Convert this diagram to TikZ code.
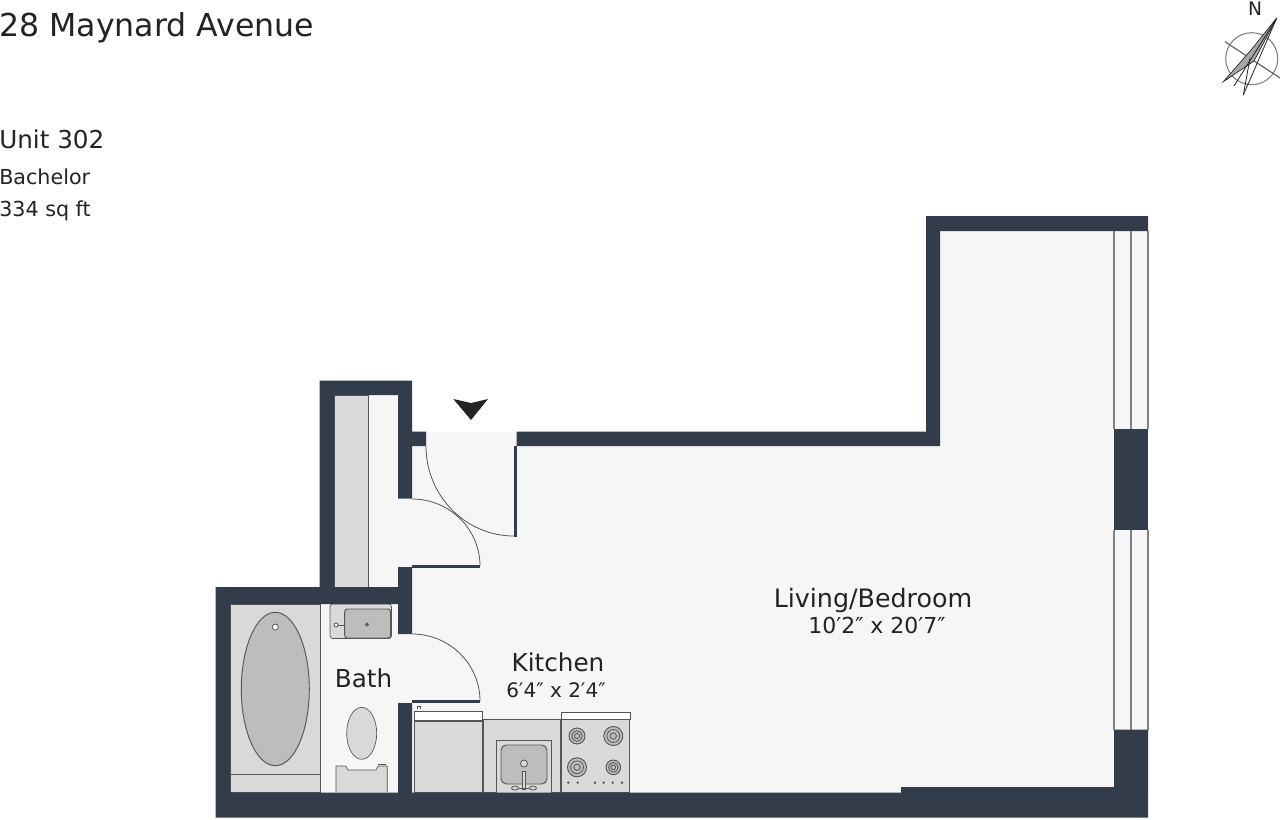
\documentclass[tikz,border=0pt]{standalone}
\usepackage{amsmath}
\usepackage{xcolor}
\usepackage{fontspec}
\setmainfont{DejaVu Sans}
\definecolor{wallcol}{RGB}{51,60,75}
\definecolor{floorcol}{RGB}{246,246,246}
\definecolor{fixcol}{RGB}{217,217,217}
\definecolor{basincol}{RGB}{189,189,189}
\definecolor{linecol}{RGB}{85,85,85}
\definecolor{inkcol}{RGB}{35,35,35}
\tikzset{
  wall/.style={fill=wallcol,draw=none},
  fixture/.style={fill=fixcol,draw=linecol,line width=0.5pt},
  basin/.style={fill=basincol,draw=linecol,line width=0.7pt},
  thinline/.style={draw=linecol,line width=0.6pt},
  winline/.style={draw=gray,line width=1.1pt},
  label/.style={text=inkcol,inner sep=0pt,font=\fontsize{18.5pt}{20pt}\selectfont},
  sublabel/.style={text=inkcol,inner sep=0pt,font=\fontsize{15.5pt}{17pt}\selectfont}
}
\begin{document}
\begin{tikzpicture}[x=0.75pt,y=0.75pt,yscale=-1,xscale=1]
\useasboundingbox (0,0) rectangle (1280,819);

%Shape: floor
\fill [floorcol] (334,395) -- (412,395) -- (412,432) -- (517,432) -- (517,446) -- (940,446) -- (940,231) -- (1148,231) -- (1148,793) -- (230,793) -- (230,604) -- (334,604) -- cycle ;

%Shape: closet shelf
\draw [fixture] (334,395) -- (368,395) -- (368,587) -- (334,587) -- cycle ;

%Shape: tub
\draw [fixture] (230,604) -- (320.5,604) -- (320.5,792) -- (230,792) -- cycle ;
\draw [thinline] (230,774) -- (320.5,774) ;
\draw [basin] (275.3,689) ellipse (34 and 76.7) ;
\draw [thinline,fill=white] (275.3,627) circle (3) ;

%Shape: bath sink
\draw [fixture,rounded corners=2pt] (330,604) -- (391.5,604) -- (391.5,638.5) -- (330,638.5) -- cycle ;
\draw [basin,rounded corners=2pt] (344.7,609) -- (390.7,609) -- (390.7,638) -- (344.7,638) -- cycle ;
\draw [thinline,fill=white] (336,625) circle (2) ;
\draw [thinline] (338,625) -- (344.7,625) ;
\draw [thinline,fill=gray] (367,624.5) circle (1.5) ;

%Shape: toilet
\draw [fixture] (361.7,733.3) ellipse (15 and 26) ;
\draw [fixture] (336,792) -- (336,766) -- (346,766) -- (348,770) -- (376,770) -- (378,766) -- (387.3,766) -- (387.3,792) ;
\draw [thinline] (377.5,764) -- (386,764) ;

%Shape: fridge
\draw [thinline,fill=white] (414,711) -- (482.5,711) -- (482.5,792) -- (414,792) -- cycle ;
\draw [fixture] (414,721) -- (482.5,721) -- (482.5,792) -- (414,792) -- cycle ;
\draw [line width=1pt,draw=linecol] (414,720.5) -- (482.5,720.5) ;
\draw [thinline] (417.5,709) -- (417.5,706) -- (420.5,706) -- (420.5,709) ;

%Shape: counter
\draw [fixture] (483.5,719) -- (561,719) -- (561,792) -- (483.5,792) -- cycle ;
\draw [fixture] (496.7,740) -- (551.7,740) -- (551.7,793) -- (496.7,793) -- cycle ;
\draw [basin,rounded corners=4pt] (501,745) -- (547,745) -- (547,784) -- (501,784) -- cycle ;
\draw [thinline,fill=fixcol] (524,763.5) circle (3.5) ;
\draw [thinline,fill=fixcol] (522.5,771) -- (525.5,771) -- (525.5,789) -- (522.5,789) -- cycle ;
\draw [thinline] (517,788) -- (531,788) ;
\draw [thinline,fill=fixcol] (515,788) ellipse (3.5 and 2) ;
\draw [thinline,fill=fixcol] (533,788) ellipse (3.5 and 2) ;

%Shape: stove
\draw [thinline,fill=white] (561,712.7) -- (630,712.7) -- (630,719) -- (561,719) -- cycle ;
\draw [fixture] (561,719) -- (629,719) -- (629,792) -- (561,792) -- cycle ;
\draw [line width=0.9pt,draw=linecol] (561,719) -- (561,792) ;
\draw [basin] (577,736) circle (8) ;
\draw [thinline] (577,736) circle (5.3) ;
\draw [thinline] (577,736) circle (2.6) ;
\draw [basin] (613.3,736) circle (9.5) ;
\draw [thinline] (613.3,736) circle (6.4) ;
\draw [thinline] (613.3,736) circle (3.2) ;
\draw [basin] (577,767.3) circle (9.5) ;
\draw [thinline] (577,767.3) circle (6.4) ;
\draw [thinline] (577,767.3) circle (3.2) ;
\draw [basin] (613.3,767.3) circle (7.3) ;
\draw [thinline] (613.3,767.3) circle (4.8) ;
\draw [thinline] (613.3,767.3) circle (2.4) ;
\fill [linecol] (568.3,782.7) circle (1.3) ;
\fill [linecol] (577.7,782.7) circle (1.3) ;
\fill [linecol] (595,782.7) circle (1.3) ;
\fill [linecol] (603.7,782.7) circle (1.3) ;
\fill [linecol] (612.7,782.7) circle (1.3) ;
\fill [linecol] (622,782.7) circle (1.3) ;

%Shape: windows
\draw [winline] (1114,231) -- (1114,429) ;
\draw [winline] (1131,231) -- (1131,429) ;
\draw [winline] (1148,231) -- (1148,429) ;
\draw [winline] (1114,530) -- (1114,730) ;
\draw [winline] (1131,530) -- (1131,730) ;
\draw [winline] (1148,530) -- (1148,730) ;

%Shape: walls
\fill [wall] (215.7,587) -- (319.5,587) -- (319.5,380.7) -- (412,380.7) -- (412,431.7) -- (426,431.7) -- (426,446) -- (412,446) -- (412,498.7) -- (398,498.7) -- (398,395) -- (334,395) -- (334,604) -- (230,604) -- (230,792.5) -- (398,792.5) -- (398,703) -- (412,703) -- (412,792.5) -- (901,792.5) -- (901,787) -- (1114,787) -- (1114,729.5) -- (1148,729.5) -- (1148,817.5) -- (215.7,817.5) -- cycle ;
\fill [wall] (334,587) -- (398,587) -- (398,567) -- (412,567) -- (412,634) -- (398,634) -- (398,604) -- (334,604) -- cycle ;
\fill [wall] (516.7,431.7) -- (926,431.7) -- (926,216) -- (1148,216) -- (1148,231) -- (940,231) -- (940,446) -- (516.7,446) -- cycle ;
\fill [wall] (1114,429) -- (1148,429) -- (1148,530) -- (1114,530) -- cycle ;

%Shape: thin door jambs
\fill [wallcol] (514,446) -- (517,446) -- (517,537) -- (514,537) -- cycle ;
\fill [wallcol] (412,565) -- (480,565) -- (480,567.5) -- (412,567.5) -- cycle ;
\fill [wallcol] (412,700) -- (480,700) -- (480,702.5) -- (412,702.5) -- cycle ;

%Shape: door swings
\draw [thinline] (426,446) arc (180:90:88 and 90) ;
\draw [thinline] (412,499) arc (-90:0:68 and 67) ;
\draw [thinline] (412,634) arc (-90:0:68 and 67) ;

%Shape: entry arrow
\fill [inkcol] (453.3,399) -- (471,403) -- (488,399) -- (471,420) -- cycle ;

%Shape: compass
\draw [draw=gray,line width=0.8pt] (1251.7,58.7) circle (26) ;
\draw [draw=gray!80!black,line width=0.9pt] (1225,41.7) -- (1280,78) ;
\draw [fill=gray!70,draw=inkcol,line width=0.5pt] (1223.3,81.7) -- (1251,50) -- (1276.7,18) -- (1254,61) -- cycle ;
\draw [draw=inkcol,line width=0.6pt] (1276.7,18) -- (1243.3,95) ;
\draw [draw=inkcol,line width=0.6pt] (1276.7,18) -- (1234,86) ;
\draw [draw=inkcol,line width=0.6pt] (1250,58) -- (1243.3,95) ;

% Text Node
\draw (-1,28) node (title) [label,anchor=west,font=\fontsize{23.7pt}{28pt}\selectfont] {28 Maynard Avenue};
% Text Node
\draw (-1,139) node (unit) [label,anchor=west] {Unit 302};
% Text Node
\draw (-1,177) node (kind) [sublabel,anchor=west] {Bachelor};
% Text Node
\draw (-1,210.5) node (area) [sublabel,anchor=west] {334 sq ft};
% Text Node
\draw (1255,9) node (north) [sublabel,font=\fontsize{14pt}{16pt}\selectfont] {N};
% Text Node
\draw (363.5,678.5) node (bath) [label] {Bath};
% Text Node
\draw (558,662.5) node (kitchen) [label] {Kitchen};
% Text Node
\draw (556,690.5) node (kitchensize) [sublabel,font=\fontsize{15pt}{17pt}\selectfont] {6′4″ x 2′4″};
% Text Node
\draw (873,600) node (living) [label,font=\fontsize{19pt}{22pt}\selectfont] {Living/Bedroom};
% Text Node
\draw (877,625.5) node (livingsize) [sublabel,font=\fontsize{16.5pt}{18pt}\selectfont] {10′2″ x 20′7″};

\end{tikzpicture}
\end{document}
